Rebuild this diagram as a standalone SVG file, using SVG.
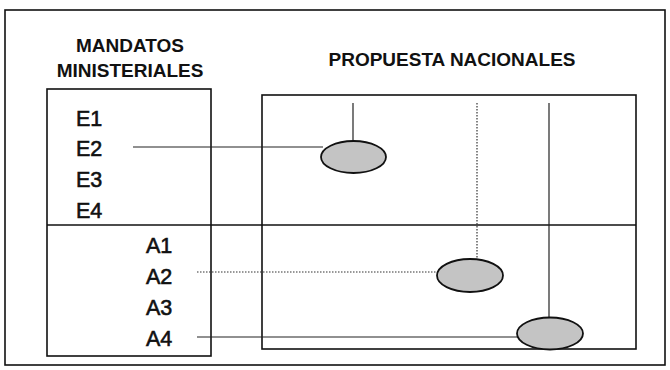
<svg xmlns="http://www.w3.org/2000/svg" width="670" height="370" viewBox="0 0 670 370">
<style>
.box{fill:none;stroke:#111;stroke-width:1.6}
.hd{font-family:"Liberation Sans",Arial,sans-serif;font-weight:bold;font-size:19px;fill:#111;text-anchor:middle}
.lb{font-family:"Liberation Sans",Arial,sans-serif;font-size:21.5px;fill:#111;stroke:#111;stroke-width:0.6}
.el{fill:#c4c4c4;stroke:#111;stroke-width:1.8}
.ln{stroke:#222;stroke-width:1.2;fill:none}
.dt{stroke:#333;stroke-width:1.2;stroke-dasharray:1.5 1.5;fill:none}
</style>
<rect x="0" y="0" width="670" height="370" fill="#fff"/>
<rect x="5" y="10" width="660" height="355" class="box" stroke-width="2"/>
<text class="hd" x="130" y="52">MANDATOS</text>
<text class="hd" x="130" y="77">MINISTERIALES</text>
<text class="hd" x="452" y="66">PROPUESTA NACIONALES</text>
<g id="mandatos">
<rect x="47" y="89" width="164" height="267" class="box"/>
<text class="lb" x="76" y="126">E1</text>
<text class="lb" x="76" y="156">E2</text>
<text class="lb" x="76" y="187">E3</text>
<text class="lb" x="76" y="218">E4</text>
<text class="lb" x="146" y="253">A1</text>
<text class="lb" x="146" y="284">A2</text>
<text class="lb" x="146" y="315">A3</text>
<text class="lb" x="146" y="346">A4</text>
</g>
<g id="propuesta">
<rect x="262" y="95" width="374" height="254" class="box"/>
</g>
<line x1="47" y1="225" x2="636" y2="225" class="box"/>
<g id="connectors">
<line x1="133" y1="147" x2="323" y2="147" class="ln"/>
<line x1="353" y1="103" x2="353" y2="141" class="ln" stroke="#555"/>
<line x1="197" y1="272" x2="438" y2="272" class="dt"/>
<line x1="477" y1="103" x2="477" y2="259" class="dt"/>
<line x1="197" y1="337" x2="518" y2="337" class="ln"/>
<line x1="549" y1="103" x2="549" y2="318" class="ln"/>
</g>
<g id="e2-node"><ellipse cx="353.5" cy="157" rx="32.5" ry="16" class="el"/></g>
<g id="a2-node"><ellipse cx="470" cy="275.5" rx="33" ry="16.5" class="el"/></g>
<g id="a4-node"><ellipse cx="550" cy="333.5" rx="33" ry="16" class="el"/></g>
</svg>
